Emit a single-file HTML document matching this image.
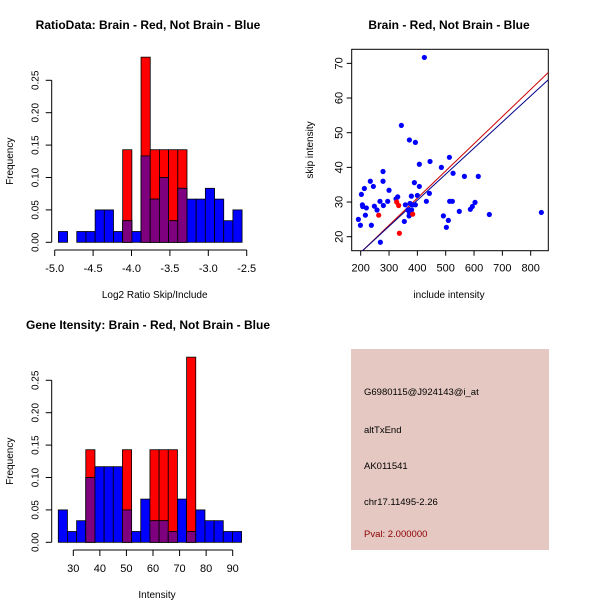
<!DOCTYPE html>
<html><head><meta charset="utf-8"><style>
body{margin:0;background:#fff}
svg{display:block;font-family:"Liberation Sans",Arial,sans-serif}
</style></head><body>
<svg id="c" width="600" height="600" viewBox="0 0 600 600">
<rect width="600" height="600" fill="#fff"/>
<text x="148" y="29" text-anchor="middle" font-size="12" font-weight="bold">RatioData: Brain - Red, Not Brain - Blue</text>
<text x="449" y="29" text-anchor="middle" font-size="12" font-weight="bold">Brain - Red, Not Brain - Blue</text>
<text x="148" y="329" text-anchor="middle" font-size="12" font-weight="bold">Gene Itensity: Brain - Red, Not Brain - Blue</text>
<g id="p1"></g>
<g id="p2"></g>
<g id="p3"></g>
<g>
<rect x="351" y="349" width="198" height="201" fill="#e5c8c1"/>
<text x="364" y="395" font-size="9.5">G6980115@J924143@i_at</text>
<text x="364" y="433" font-size="9.5">altTxEnd</text>
<text x="364" y="469" font-size="9.5">AK011541</text>
<text x="364" y="505" font-size="9.5">chr17.11495-2.26</text>
<text x="364" y="537" font-size="9.5" fill="#8b0000">Pval: 2.000000</text>
</g>
</svg>
<script>
const NS="http://www.w3.org/2000/svg";
// Ratio histogram data
const ratioBreakStart=-4.952, ratioBinWidth=0.1196;
const ratioBlue=[1,0,1,1,3,3,1,2,1,8,4,6,2,5,4,4,5,4,2,3];
const ratioRed=[0,0,0,0,0,0,0,1,0,2,1,1,1,1,0,0,0,0,0,0];
const ratioXTicks=[-5.0,-4.5,-4.0,-3.5,-3.0,-2.5];
const ratioXLabels=["-5.0","-4.5","-4.0","-3.5","-3.0","-2.5"];
const freqTicks=[0,0.05,0.10,0.15,0.20,0.25];
const freqLabels=["0.00","0.05","0.10","0.15","0.20","0.25"];
// Intensity histogram data
const intBreakStart=24.35, intBinWidth=3.45;
const intBlue=[3,1,2,6,7,7,7,3,1,4,2,2,1,4,1,3,2,2,1,1];
const intRed=[0,0,0,1,0,0,0,1,0,0,1,1,1,0,2,0,0,0,0,0];
const intXTicks=[30,40,50,60,70,80,90];
// Scatter data
const blueX=[424.7,343.5,371.8,393,407,444.7,513,484.7,526,566,615,278.8,278.8,234,244.7,213,202.4,300,389.4,407,378.8,400,442.4,330.6,324.7,268,280,295.3,248.2,257.6,206,207,220,216.5,191.8,199,237.6,269.4,354,370.6,371.8,357.6,374,383.5,393,366.6,379.6,431.8,491.8,509.4,502.4,514,523.5,548,587,594,603.5,654,837.6];
const blueY=[71.7,52.1,47.9,47.2,40.9,41.7,42.9,40,38.3,37.4,37.4,38.8,36,36,34.5,33.9,32.2,33.4,35.6,34.5,31.7,31.9,32.5,31.5,30.9,30.2,29,30.2,28.8,27.7,29.2,28.7,28.3,26.2,25,23.3,23.3,18.4,24.4,26,27,29.2,29.6,29.2,29.2,27.7,27.7,30.2,26,24.7,22.7,30.2,30.2,27.3,27.9,28.7,29.9,26.4,27];
const redX=[263.5,327,334,336.5,383.5];
const redY=[26.2,30,29,21,26.5];
const redFit=[-0.23,0.0784], blueFit=[0.43,0.0752];
const scXTicks=[200,300,400,500,600,700,800];
const scYTicks=[20,30,40,50,60,70];

function el(p,tag,a,name,txt){const e=document.createElementNS(NS,tag);for(const k in a)e.setAttribute(k,a[k]);


if(txt!==undefined)e.textContent=txt;p.appendChild(e);return e;}

function hist(g,cfg){
  const {x0,x1,v0,v1,base,blue,red,start,bw,xt,xl,xlab,axisY,yAxisX}=cfg;
  const sx=v=>x0+(v-v0)/(v1-v0)*(x1-x0);
  const sy=f=>base-f/0.05*32.4;
  const nb=blue.reduce((a,b)=>a+b,0), nr=red.reduce((a,b)=>a+b,0);
  for(let i=0;i<blue.length;i++){
    const a=sx(start+i*bw), b=sx(start+(i+1)*bw);
    const fb=blue[i]/nb, fr=red[i]/nr;
    if(fr>0) el(g,'rect',{x:a,y:sy(fr),width:b-a,height:base-sy(fr),fill:'#ff0000',stroke:'#000','stroke-width':0.8},'red-bar');
    if(fb>0) el(g,'rect',{x:a,y:sy(fb),width:b-a,height:base-sy(fb),fill:'#0000ff',stroke:'#000','stroke-width':0.8},'blue-bar');
    const m=Math.min(fb,fr);
    if(m>0) el(g,'rect',{x:a,y:sy(m),width:b-a,height:base-sy(m),fill:'#7f007f',stroke:'#000','stroke-width':0.8},'overlap-bar');
  }
  el(g,'line',{x1:sx(xt[0]),x2:sx(xt[xt.length-1]),y1:axisY,y2:axisY,stroke:'#000'},'x-axis');
  xt.forEach((t,i)=>{el(g,'line',{x1:sx(t),x2:sx(t),y1:axisY,y2:axisY+6,stroke:'#000'},'x-tick');
    el(g,'text',{x:sx(t),y:axisY+22,'text-anchor':'middle','font-size':11},'x-tick-label',xl[i]);});
  el(g,'text',{x:(x0+x1)/2+4,y:axisY+48,'text-anchor':'middle','font-size':10},'x-axis-title',xlab);
  el(g,'line',{x1:yAxisX,x2:yAxisX,y1:sy(0),y2:sy(0.25),stroke:'#000'},'y-axis');
  freqTicks.forEach((t,i)=>{const y=sy(t);el(g,'line',{x1:yAxisX-6,x2:yAxisX,y1:y,y2:y,stroke:'#000'},'y-tick');
    el(g,'text',{x:yAxisX-13,y:y,'text-anchor':'middle','font-size':10,transform:`rotate(-90 ${yAxisX-13} ${y})`},'y-tick-label',freqLabels[i]);});
  const my=sy(0.125);
  el(g,'text',{x:13,y:my,'text-anchor':'middle','font-size':10,transform:`rotate(-90 13 ${my})`},'y-axis-title','Frequency');
}
hist(document.getElementById('p1'),{x0:54.7,x1:246.7,v0:-5,v1:-2.5,base:242.3,blue:ratioBlue,red:ratioRed,start:ratioBreakStart,bw:ratioBinWidth,xt:ratioXTicks,xl:ratioXLabels,xlab:'Log2 Ratio Skip/Include',axisY:250,yAxisX:51.7});
hist(document.getElementById('p3'),{x0:73.3,x1:232.7,v0:30,v1:90,base:542.3,blue:intBlue,red:intRed,start:intBreakStart,bw:intBinWidth,xt:intXTicks,xl:intXTicks.map(String),xlab:'Intensity',axisY:550,yAxisX:51.7});

(function(){
  const g=document.getElementById('p2');
  const L=351.7,R=548.3,T=49.3,B=250.7;
  const sx=v=>360.7+(v-200)*(170/600);
  const sy=v=>236.7-(v-20)*3.467;
  el(g,'rect',{x:L,y:T,width:R-L,height:B-T,fill:'none',stroke:'#000'},'plot-frame');
  const cp=el(g,'clipPath',{id:'clp'},'clip');
  el(cp,'rect',{x:L,y:T,width:R-L,height:B-T},'clip-rect');
  const lg=el(g,'g',{'clip-path':'url(#clp)'},'plot-area');
  [[redFit,'#cc0000','red-fit-line'],[blueFit,'#00008b','blue-fit-line']].forEach(([f,c,n])=>{
    el(lg,'line',{x1:sx(150),y1:sy(f[0]+f[1]*150),x2:sx(900),y2:sy(f[0]+f[1]*900),stroke:c,'stroke-width':1},n);});
  blueX.forEach((x,i)=>el(lg,'circle',{cx:sx(x),cy:sy(blueY[i]),r:2.6,fill:'#0000ff'},'blue-point'));
  redX.forEach((x,i)=>el(lg,'circle',{cx:sx(x),cy:sy(redY[i]),r:2.6,fill:'#ff0000'},'red-point'));
  scXTicks.forEach(t=>{el(g,'line',{x1:sx(t),x2:sx(t),y1:B,y2:B+5,stroke:'#000'},'x-tick');
    el(g,'text',{x:sx(t),y:B+21,'text-anchor':'middle','font-size':11},'x-tick-label',String(t));});
  scYTicks.forEach(t=>{const y=sy(t);el(g,'line',{x1:L-5,x2:L,y1:y,y2:y,stroke:'#000'},'y-tick');
    el(g,'text',{x:L-9,y:y,'text-anchor':'middle','font-size':11,transform:`rotate(-90 ${L-9} ${y})`},'y-tick-label',String(t));});
  el(g,'text',{x:449,y:298,'text-anchor':'middle','font-size':10},'x-axis-title','include intensity');
  el(g,'text',{x:313,y:150,'text-anchor':'middle','font-size':10,transform:'rotate(-90 313 150)'},'y-axis-title','skip intensity');
})();
</script>
</body></html>
